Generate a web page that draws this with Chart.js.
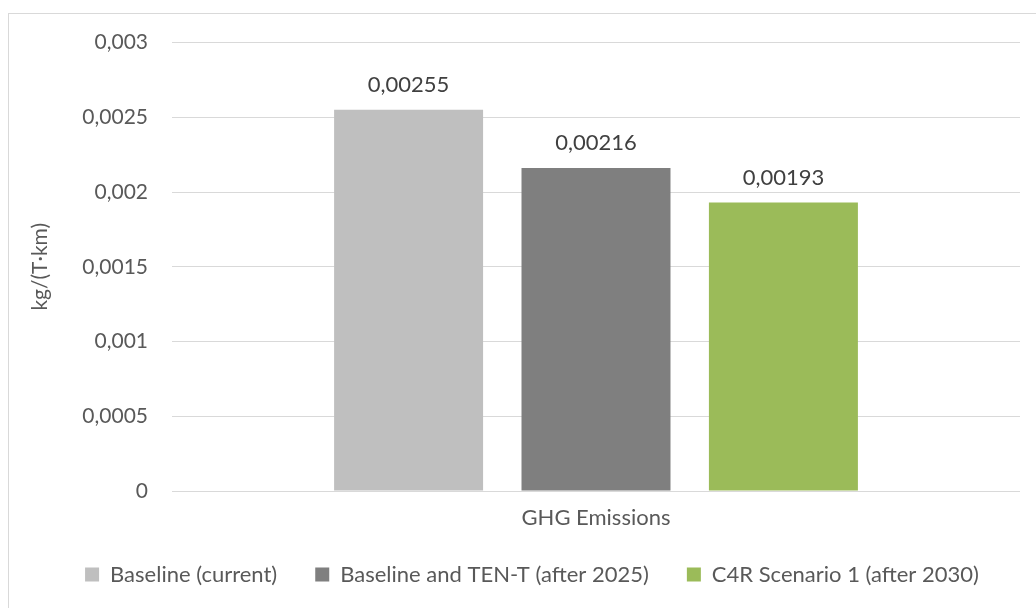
<!DOCTYPE html>
<html>
<head>
<meta charset="utf-8">
<script src="https://cdn.jsdelivr.net/npm/chart.js@4"></script>
<style>
  html, body { margin: 0; padding: 0; background: #fff; overflow: hidden; width: 1036px; height: 608px; }
  #box {
    position: absolute; left: 8px; top: 13px; width: 1048px; height: 596px;
    border: 1px solid #d9d9d9; box-sizing: border-box;
  }
</style>
</head>
<body>
<div id="box"><canvas id="chart"></canvas></div>
<script>
const categories = ["GHG Emissions"];
const seriesNames = ["Baseline (current)", "Baseline and TEN-T (after 2025)", "C4R Scenario 1 (after 2030)"];
const baselineCurrent = [0.00255];
const baselineTenT = [0.00216];
const c4rScenario1 = [0.00193];
const seriesColors = ["#bfbfbf", "#7f7f7f", "#9bbb59"];

const fmt = v => Number(v.toFixed(5)).toString().replace(".", ",");
const FONT = "Lato, 'Open Sans', sans-serif";
const TEXT = "#595959";

const valueLabels = {
  id: "valueLabels",
  afterDatasetsDraw(chart) {
    const ctx = chart.ctx;
    ctx.save();
    ctx.font = "22px " + FONT;
    ctx.fillStyle = "#404040";
    ctx.textAlign = "center";
    ctx.textBaseline = "middle";
    chart.data.datasets.forEach((ds, i) => {
      chart.getDatasetMeta(i).data.forEach((el, j) => {
        ctx.fillText(fmt(ds.data[j]), el.x, el.y - 25);
      });
    });
    ctx.restore();
  }
};

new Chart(document.getElementById("chart"), {
  type: "bar",
  data: {
    labels: categories,
    datasets: [baselineCurrent, baselineTenT, c4rScenario1].map((d, i) => ({
      label: seriesNames[i],
      data: d,
      backgroundColor: seriesColors[i],
      categoryPercentage: 0.663,
      barPercentage: 0.795
    }))
  },
  options: {
    responsive: true,
    maintainAspectRatio: false,
    animation: false,
    layout: { padding: { left: 0, right: 0, top: 28.5, bottom: 12.5 } },
    plugins: {
      tooltip: { enabled: false },
      legend: {
        position: "bottom",
        labels: {
          boxWidth: 14, boxHeight: 14, padding: 38,
          color: TEXT, font: { family: FONT, size: 22 }
        }
      }
    },
    scales: {
      x: {
        afterFit: s => { s.height = 34.5; s.paddingLeft = 0; s.paddingRight = 0; },
        grid: { display: false },
        border: { display: false },
        ticks: { color: TEXT, padding: 6, font: { family: FONT, size: 22 } }
      },
      y: {
        min: 0, max: 0.003,
        afterFit: s => { s.width = 163; s.paddingTop = 0; s.paddingBottom = 0; },
        grid: { color: "#d9d9d9", lineWidth: 1, drawTicks: false },
        border: { display: false },
        ticks: {
          stepSize: 0.0005, padding: 24, color: TEXT,
          font: { family: FONT, size: 21 },
          callback: v => fmt(v)
        },
        title: {
          display: true, text: "kg/(T·km)", color: TEXT,
          font: { family: FONT, size: 21 }, padding: { top: 19, bottom: 0 }
        }
      },
      // empty right-hand gutter so the plot ends where the original does
      yRight: {
        position: "right",
        afterFit: s => { s.width = 35; s.paddingTop = 0; s.paddingBottom = 0; },
        grid: { display: false },
        border: { display: false },
        ticks: { display: false }
      }
    }
  },
  plugins: [valueLabels]
});
</script>
</body>
</html>
